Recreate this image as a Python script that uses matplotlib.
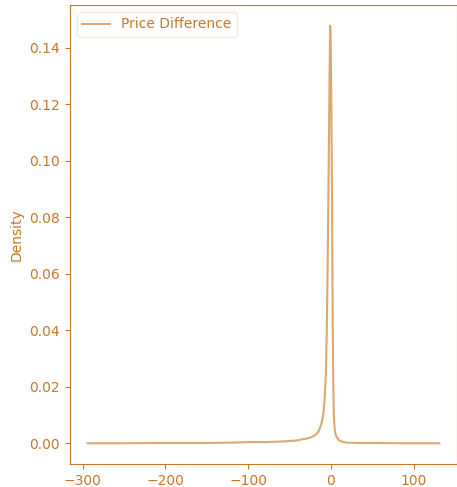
import matplotlib
matplotlib.use('Agg')
import matplotlib.pyplot as plt
import numpy as np

TEXT_COLOR = '#c4782c'
LINE_COLOR = '#dca86e'

# price difference grid and estimated density
price_diff = [-294, -250, -200, -150, -120, -100, -80, -60, -50, -40, -35, -30,
              -25, -20, -17, -15, -13, -11, -10, -9, -8, -7, -6, -5, -4, -3,
              -2, -1, -0.5, 0, 0.5, 1, 1.5, 2, 2.5, 3, 3.5, 4, 5, 6, 8, 10,
              15, 20, 30, 50, 80, 100, 131]
density = [0.0000, 0.0000, 0.0001, 0.0001, 0.0002, 0.0004, 0.0004, 0.0006,
           0.0008, 0.0010, 0.0014, 0.0016, 0.0020, 0.0027, 0.0034, 0.0042,
           0.0056, 0.0075, 0.0091, 0.011, 0.014, 0.019, 0.026, 0.040, 0.062,
           0.090, 0.120, 0.1477, 0.145, 0.135, 0.118, 0.097, 0.076, 0.050,
           0.030, 0.017, 0.010, 0.0068, 0.0040, 0.0028, 0.0017, 0.0010,
           0.0004, 0.0002, 0.0001, 0.0001, 0.0000, 0.0000, 0.0000]

fig = plt.figure(figsize=(4.57, 4.87), dpi=100)
ax = fig.add_axes([0.153, 0.047, 0.847, 0.943])

ax.plot(price_diff, density, color=LINE_COLOR, lw=1.5, label='Price Difference')

ax.set_ylabel('Density', color=TEXT_COLOR)
ax.set_xticks([-300, -200, -100, 0, 100])
ax.set_yticks(np.arange(0, 0.15, 0.02))
ax.tick_params(colors=TEXT_COLOR)
for s in ax.spines.values():
    s.set_color(TEXT_COLOR)

leg = ax.legend(loc='upper left')
leg.get_frame().set_edgecolor('#f5e4d2')
for t in leg.get_texts():
    t.set_color(TEXT_COLOR)

fig.savefig('out.png')
